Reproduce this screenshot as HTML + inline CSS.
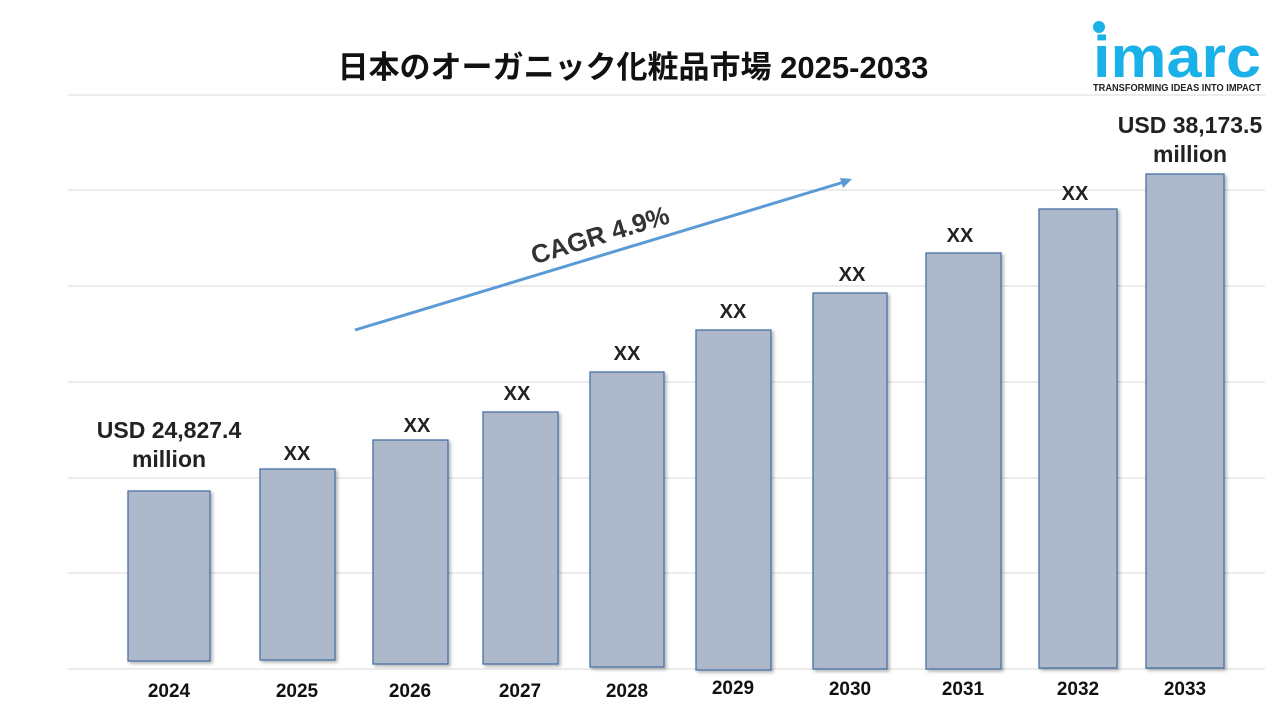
<!DOCTYPE html>
<html><head><meta charset="utf-8"><style>
body{margin:0;width:1280px;height:720px;background:#fff;overflow:hidden;font-family:"Liberation Sans","Noto Sans CJK JP",sans-serif}
</style></head><body>
<svg width="1280" height="720" xmlns="http://www.w3.org/2000/svg" font-family="Liberation Sans, Noto Sans CJK JP, sans-serif">
<defs><filter id="s" x="-10%" y="-10%" width="130%" height="130%"><feDropShadow dx="2" dy="2" stdDeviation="1.5" flood-color="#000" flood-opacity="0.3"/></filter></defs>
<text x="633" y="78" text-anchor="middle" font-size="31" font-weight="bold" fill="#111">日本のオーガニック化粧品市場 2025-2033</text>
<g stroke="#d9d9d9" stroke-width="1">
<line x1="68" y1="95" x2="1265" y2="95"/><line x1="68" y1="190" x2="1265" y2="190"/><line x1="68" y1="286" x2="1265" y2="286"/><line x1="68" y1="382" x2="1265" y2="382"/><line x1="68" y1="478" x2="1265" y2="478"/><line x1="68" y1="573" x2="1265" y2="573"/><line x1="68" y1="669" x2="1265" y2="669"/>
</g>
<g fill="#adb9ca" stroke="#4a6fa5" stroke-width="1.3" filter="url(#s)">
<rect x="128" y="491" width="82" height="170"/>
<rect x="260" y="469" width="75" height="191"/>
<rect x="373" y="440" width="75" height="224"/>
<rect x="483" y="412" width="75" height="252"/>
<rect x="590" y="372" width="74" height="295"/>
<rect x="696" y="330" width="75" height="340"/>
<rect x="813" y="293" width="74" height="376"/>
<rect x="926" y="253" width="75" height="416"/>
<rect x="1039" y="209" width="78" height="459"/>
<rect x="1146" y="174" width="78" height="494"/>
</g>
<g font-size="19" font-weight="bold" fill="#111" text-anchor="middle">
<text x="169" y="697">2024</text><text x="297" y="697">2025</text><text x="410" y="697">2026</text><text x="520" y="697">2027</text><text x="627" y="697">2028</text><text x="733" y="694">2029</text><text x="850" y="695">2030</text><text x="963" y="695">2031</text><text x="1078" y="695">2032</text><text x="1185" y="695">2033</text>
</g>
<g font-size="20" font-weight="bold" fill="#222" text-anchor="middle">
<text x="297" y="460">XX</text><text x="417" y="432">XX</text><text x="517" y="400">XX</text><text x="627" y="360">XX</text><text x="733" y="318">XX</text><text x="852" y="281">XX</text><text x="960" y="242">XX</text><text x="1075" y="200">XX</text>
<text x="169" y="438" font-size="23">USD 24,827.4</text><text x="169" y="467" font-size="23">million</text>
<text x="1190" y="133" font-size="23">USD 38,173.5</text><text x="1190" y="162" font-size="23">million</text>
</g>
<line x1="355" y1="330" x2="844" y2="182" stroke="#5b9bd5" stroke-width="3"/>
<polygon points="852,179 840,178 843,188" fill="#5b9bd5"/>
<text x="600" y="244" text-anchor="middle" font-size="26" font-weight="bold" fill="#333" transform="rotate(-17 600 235)">CAGR 4.9%</text>
<circle cx="1099" cy="27" r="6" fill="#1ab0e8"/>
<text x="1177" y="77" text-anchor="middle" font-size="58" font-weight="bold" fill="#1ab0e8" textLength="168" lengthAdjust="spacingAndGlyphs">imarc</text>
<text x="1177" y="91" text-anchor="middle" font-size="10" font-weight="bold" fill="#222" textLength="168" lengthAdjust="spacingAndGlyphs">TRANSFORMING IDEAS INTO IMPACT</text>
</svg>
</body></html>
